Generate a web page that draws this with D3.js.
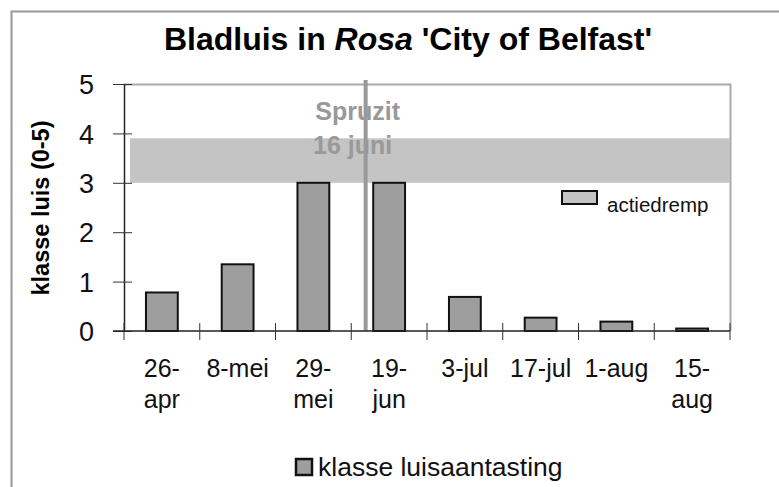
<!DOCTYPE html>
<html>
<head>
<meta charset="utf-8">
<script src="https://cdn.jsdelivr.net/npm/d3@7"></script>
<style>
  body { margin: 0; background: #fff; }
  text { font-family: Arial, "Liberation Sans", sans-serif; }
</style>
</head>
<body>
<div id="chart"></div>
<script>
// data
var categories = ["26-apr", "8-mei", "29-mei", "19-jun", "3-jul", "17-jul", "1-aug", "15-aug"];
var tickLabels = [["26-", "apr"], ["8-mei"], ["29-", "mei"], ["19-", "jun"], ["3-jul"], ["17-jul"], ["1-aug"], ["15-", "aug"]];
var values = [0.78, 1.35, 3.0, 3.0, 0.69, 0.27, 0.19, 0.05];
var thresholdBand = [3, 3.9];   // actiedrempel
var sprayPos = 2.69;            // 16 juni, in category units
var yTicks = [0, 1, 2, 3, 4, 5];

var W = 779, H = 487;
var margin = { top: 84, right: 49, bottom: 156, left: 124 },
  width = W - margin.left - margin.right,
  height = H - margin.top - margin.bottom;

var root = d3.select("#chart").append("svg")
  .attr("width", W)
  .attr("height", H);

// outer frame
root.append("path")
  .attr("d", "M11.5," + H + "V11.5H" + W)
  .attr("fill", "none")
  .attr("stroke", "#999")
  .attr("stroke-width", 2);

// title
var title = root.append("text")
  .attr("x", 408)
  .attr("y", 50)
  .attr("text-anchor", "middle")
  .style("font-size", "32px")
  .style("font-weight", "bold");
title.append("tspan").text("Bladluis in ");
title.append("tspan").style("font-style", "italic").text("Rosa");
title.append("tspan").text("  'City of Belfast'");

var svg = root.append("g")
  .attr("transform", "translate(" + margin.left + "," + margin.top + ")");

var x = d3.scaleBand()
  .domain(categories)
  .range([0, width])
  .padding(0);

var y = d3.scaleLinear()
  .domain([0, 5])
  .range([height, 0]);

// plot border (top/right)
svg.append("path")
  .attr("d", "M0,0.5H" + (width + 0.5) + "V" + height)
  .attr("fill", "none")
  .attr("stroke", "#aaa")
  .attr("stroke-width", 2);

// threshold band
svg.append("rect")
  .attr("x", 6)
  .attr("width", width - 6)
  .attr("y", y(thresholdBand[1]))
  .attr("height", y(thresholdBand[0]) - y(thresholdBand[1]))
  .attr("fill", "#c4c4c4");

// bars
var bw = x.bandwidth() * 0.42;
svg.selectAll("rect.bar")
  .data(values)
  .enter()
  .append("rect")
  .attr("class", "bar")
  .attr("x", function (d, i) { return x(categories[i]) + (x.bandwidth() - bw) / 2; })
  .attr("width", bw)
  .attr("y", function (d) { return y(d); })
  .attr("height", function (d) { return height - y(d); })
  .attr("fill", "#9e9e9e")
  .attr("stroke", "#111")
  .attr("stroke-width", 2);

// spray text + line
var sx = x(categories[0]) + (sprayPos + 0.5) * x.bandwidth();
svg.append("text")
  .attr("x", sx - 8)
  .attr("y", 36)
  .attr("text-anchor", "middle")
  .attr("fill", "#999")
  .style("font-size", "25px")
  .style("font-weight", "bold")
  .text("Spruzit");
svg.append("text")
  .attr("x", sx - 13)
  .attr("y", 70)
  .attr("text-anchor", "middle")
  .attr("fill", "#999")
  .style("font-size", "25px")
  .style("font-weight", "bold")
  .text("16 juni");
svg.append("line")
  .attr("x1", sx).attr("x2", sx)
  .attr("y1", -4).attr("y2", height)
  .attr("stroke", "#999")
  .attr("stroke-width", 4);

// Y axis
var yAxis = svg.append("g")
  .call(d3.axisLeft(y).tickValues(yTicks).tickFormat(d3.format("d"))
    .tickSize(11).tickSizeOuter(0).tickPadding(19));
yAxis.select(".domain").attr("stroke", "#222").attr("stroke-width", 1.5);
yAxis.selectAll(".tick line").attr("stroke", "#333").attr("x2", 8).attr("x1", -11);
yAxis.selectAll("text")
  .style("font-size", "27px")
  .attr("fill", "#111")
  .attr("dy", "0.36em");

// X axis
var xAxis = svg.append("g")
  .attr("transform", "translate(0," + height + ")");
xAxis.append("line")
  .attr("x1", -11).attr("x2", width)
  .attr("stroke", "#222").attr("stroke-width", 1.5);
var edges = categories.map(function (c) { return x(c); }).concat([width]);
xAxis.selectAll("line.tick")
  .data(edges)
  .enter()
  .append("line")
  .attr("class", "tick")
  .attr("x1", function (d) { return d; })
  .attr("x2", function (d) { return d; })
  .attr("y1", -8).attr("y2", 9)
  .attr("stroke", "#333");
var lbl = xAxis.selectAll("text.lbl")
  .data(tickLabels)
  .enter()
  .append("text")
  .attr("class", "lbl")
  .attr("text-anchor", "middle")
  .attr("fill", "#111")
  .style("font-size", "25px")
  .attr("transform", function (d, i) {
    return "translate(" + (x(categories[i]) + x.bandwidth() / 2) + ",46)";
  });
lbl.selectAll("tspan")
  .data(function (d) { return d; })
  .enter()
  .append("tspan")
  .attr("x", 0)
  .attr("y", function (d, j) { return j * 31; })
  .text(function (d) { return d; });

// Y axis title
root.append("text")
  .attr("transform", "translate(49,208)rotate(-90)")
  .attr("text-anchor", "middle")
  .style("font-size", "23.5px")
  .style("font-weight", "bold")
  .text("klasse luis (0-5)");

// legend: actiedremp
root.append("rect")
  .attr("x", 562).attr("y", 191)
  .attr("width", 35).attr("height", 13)
  .attr("fill", "#c4c4c4")
  .attr("stroke", "#111").attr("stroke-width", 2);
root.append("text")
  .attr("x", 607).attr("y", 212)
  .style("font-size", "20.5px")
  .attr("fill", "#111")
  .text("actiedremp");

// legend: klasse luisaantasting
root.append("rect")
  .attr("x", 296).attr("y", 459)
  .attr("width", 16).attr("height", 16)
  .attr("fill", "#9e9e9e")
  .attr("stroke", "#111").attr("stroke-width", 2.5);
root.append("text")
  .attr("x", 318).attr("y", 476)
  .style("font-size", "26.5px")
  .attr("fill", "#111")
  .text("klasse luisaantasting");
</script>
</body>
</html>
